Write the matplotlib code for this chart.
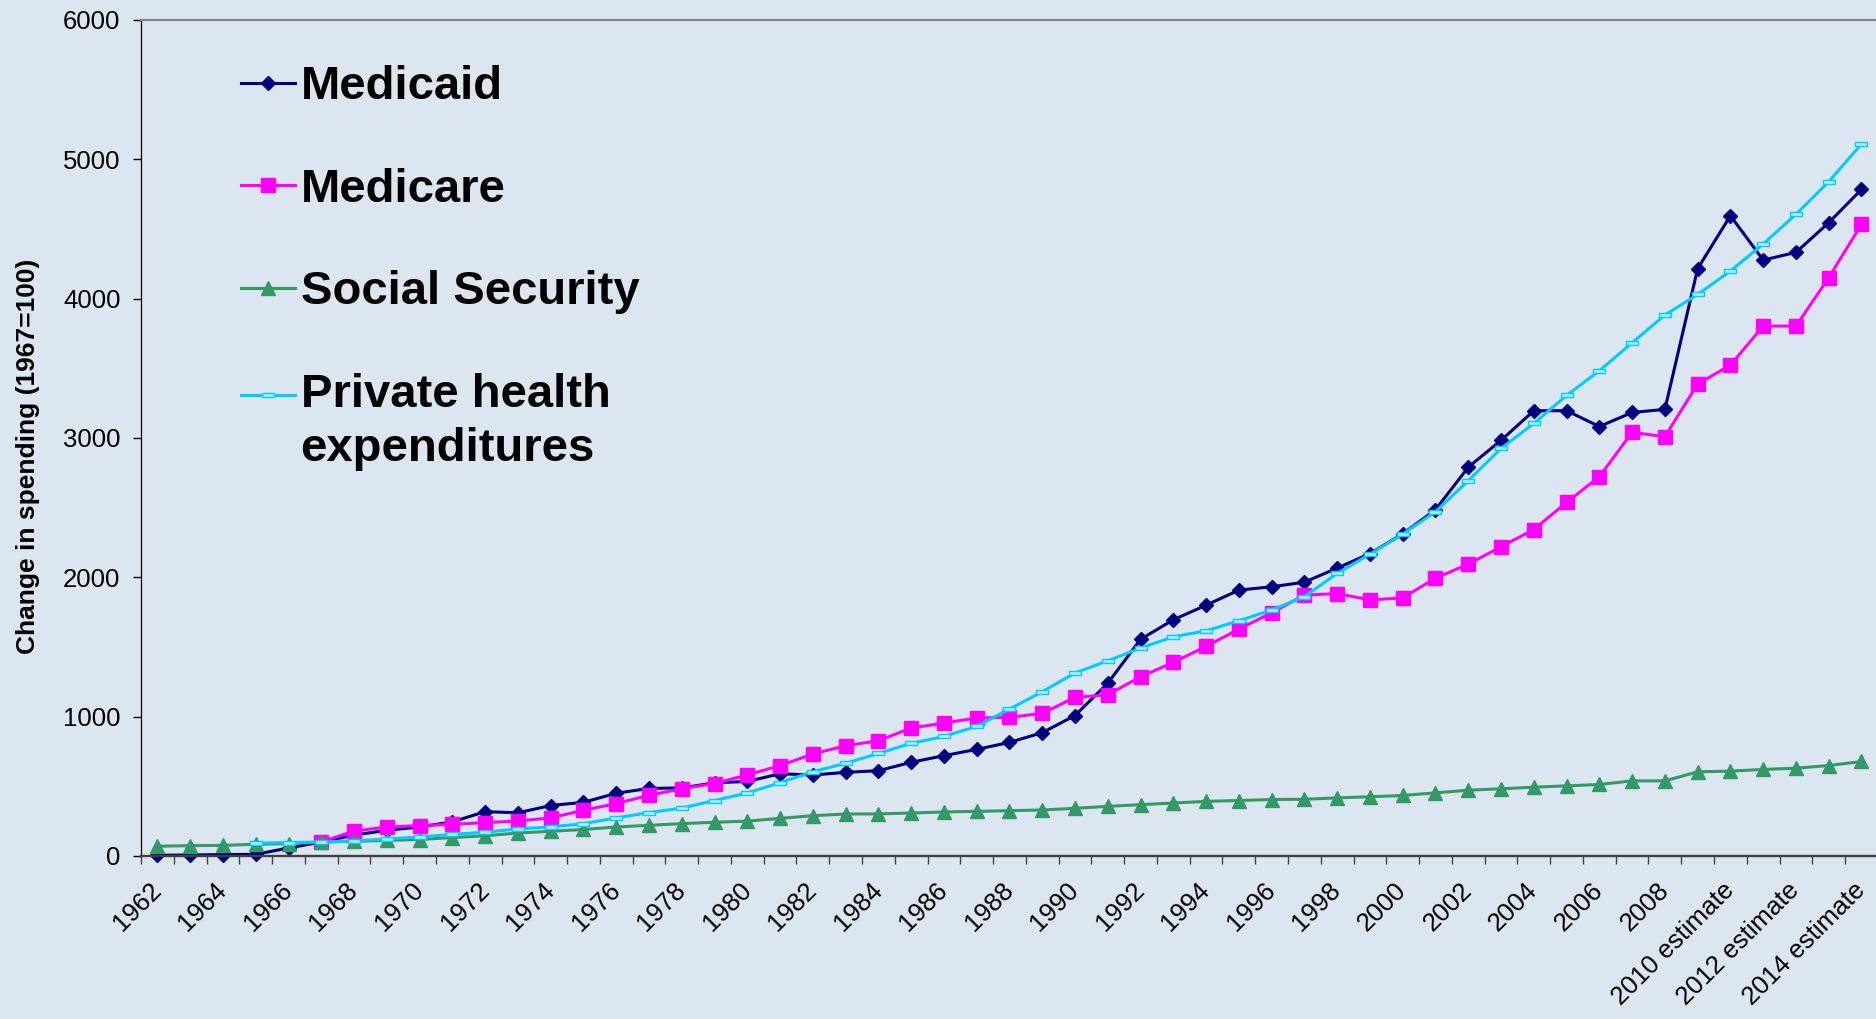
import numpy as np
import matplotlib
matplotlib.use("Agg")
import matplotlib.pyplot as plt
from matplotlib.legend_handler import HandlerLine2D

plt.rcParams['font.family'] = ['Liberation Sans', 'DejaVu Sans']

nan = np.nan
years = list(range(1962, 2015))
categories = [str(y) if y < 2010 else f"{y} estimate" for y in years]

medicaid = [5, 7, 10, 12, 57, 100, 150, 184, 208, 245,
            318, 310, 362, 385, 450, 485, 488, 525, 535, 590,
            581, 600, 612, 672, 720, 765, 815, 885, 1008, 1240,
            1555, 1695, 1800, 1908, 1932, 1965, 2066, 2170, 2312, 2485,
            2790, 2983, 3195, 3196, 3082, 3183, 3205, 4215, 4595, 4277,
            4332, 4545, 4784]
medicare = [nan, nan, nan, nan, nan, 100, 179, 208, 218, 227,
            239, 251, 273, 328, 376, 435, 483, 520, 582, 648,
            732, 791, 827, 918, 954, 990, 995, 1023, 1138, 1157,
            1286, 1389, 1504, 1628, 1745, 1872, 1883, 1838, 1852, 1994,
            2094, 2219, 2343, 2537, 2722, 3040, 3009, 3387, 3523, 3803,
            3803, 4150, 4533]
social_security = [70, 74, 76, 84, 88, 100, 105, 112, 118, 132,
                   145, 165, 177, 190, 208, 220, 232, 242, 250, 270,
                   289, 301, 302, 308, 316, 320, 325, 330, 342, 356,
                   368, 380, 392, 398, 405, 407, 417, 425, 434, 453,
                   472, 482, 494, 503, 513, 539, 539, 604, 609, 621,
                   630, 649, 678]
private_health = [nan, nan, nan, 92, 96, 100, 108, 122, 136, 155,
                  170, 194, 208, 232, 273, 311, 344, 398, 452, 526,
                  605, 665, 736, 808, 858, 930, 1054, 1179, 1313, 1401,
                  1492, 1573, 1616, 1688, 1765, 1861, 2028, 2166, 2310, 2471,
                  2693, 2925, 3104, 3305, 3482, 3683, 3882, 4030, 4198, 4392,
                  4605, 4839, 5110]

series_names = ["Medicaid", "Medicare", "Social Security", "Private health\nexpenditures"]

bg = '#DCE6F1'
fig = plt.figure(figsize=(18.76, 10.19), dpi=100, facecolor=bg)
ax = fig.add_axes([0.0752, 0.160, 0.9258, 0.8204])
ax.set_facecolor(bg)

x = np.arange(len(categories))
rect = [(-1, -0.35), (1, -0.35), (1, 0.35), (-1, 0.35), (-1, -0.35)]
l1, = ax.plot(x, medicaid, color='#000080', lw=2.2, marker='D', ms=7.5, clip_on=False, label=series_names[0])
l2, = ax.plot(x, medicare, color='#FF00FF', lw=2.2, marker='s', ms=9.5, clip_on=False, label=series_names[1])
l3, = ax.plot(x, social_security, color='#339966', lw=2.2, marker='^', ms=9.5, clip_on=False, label=series_names[2])
l4, = ax.plot(x, private_health, color='#00CCFF', lw=2.2, marker=rect, ms=8.6,
              mfc='#B3EEFF', mec='#00CCFF', mew=1.0, clip_on=False, label=series_names[3])

ax.set_xlim(-0.5, len(categories) - 0.5)
ax.set_ylim(0, 6000)
ax.set_yticks(range(0, 6001, 1000))
ax.tick_params(axis='y', which='major', length=5.8, width=1, color='black', pad=9, labelsize=18.5)

ax.set_xticks(x[::2])
ax.set_xticklabels([categories[i] for i in x[::2]], rotation=45, ha='right', va='center',
                   rotation_mode='anchor', fontsize=18.5)
ax.tick_params(axis='x', which='major', length=0, pad=22)
ax.set_xticks(np.arange(-0.5, len(categories), 1), minor=True)
ax.tick_params(axis='x', which='minor', length=5.5, width=1, color='#404040')

ax.spines['right'].set_visible(False)
ax.spines['top'].set_color('#868686')
ax.spines['top'].set_linewidth(1.6)
ax.spines['bottom'].set_color('#404040')
ax.spines['bottom'].set_linewidth(1.7)
ax.spines['left'].set_color('black')
ax.spines['left'].set_linewidth(0.9)

ax.set_ylabel("Change in spending (1967=100)", fontsize=19, fontweight='bold')
ax.yaxis.set_label_coords(-0.058, 0.478)


class RaisedHandler(HandlerLine2D):
    def __init__(self, shift, **kw):
        super().__init__(**kw)
        self.shift = shift

    def create_artists(self, legend, orig_handle, xdescent, ydescent, width, height, fontsize, trans):
        arts = super().create_artists(legend, orig_handle, xdescent, ydescent, width, height, fontsize, trans)
        for a in arts:
            a.set_ydata(np.asarray(a.get_ydata()) + self.shift * fontsize)
        return arts


leg = ax.legend(handles=[l1, l2, l3, l4], loc='upper left', bbox_to_anchor=(0.0576, 0.946),
                frameon=False, borderpad=0, borderaxespad=0, handlelength=1.14,
                handletextpad=0.12, labelspacing=1.24,
                prop={'size': 34, 'weight': 'bold'},
                handler_map={l4: RaisedHandler(0.58)})
for t in leg.get_texts():
    t.set_linespacing(1.29)

fig.savefig("out.png", dpi=100, facecolor=bg)
